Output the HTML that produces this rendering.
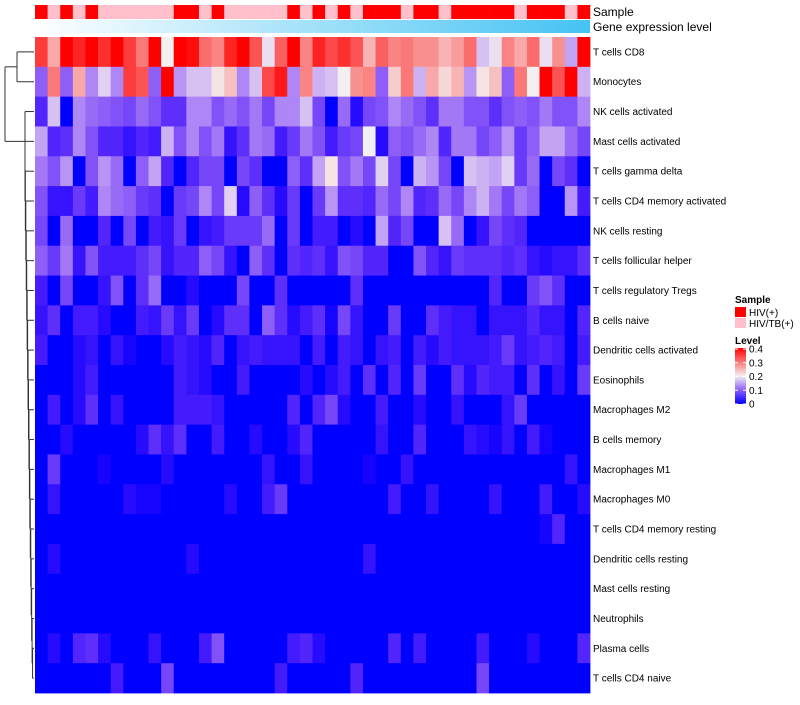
<!DOCTYPE html>
<html><head><meta charset="utf-8"><style>
body{margin:0;background:#fff;font-family:"Liberation Sans",sans-serif;}
svg text{font-family:"Liberation Sans",sans-serif;}
</style></head><body>
<svg id="chart" width="800" height="700" xmlns="http://www.w3.org/2000/svg"></svg>
<script>
const rowLabels=["T cells CD8","Monocytes","NK cells activated","Mast cells activated","T cells gamma delta","T cells CD4 memory activated","NK cells resting","T cells follicular helper","T cells regulatory  Tregs","B cells naive","Dendritic cells activated","Eosinophils","Macrophages M2","B cells memory","Macrophages M1","Macrophages M0","T cells CD4 memory resting","Dendritic cells resting","Mast cells resting","Neutrophils","Plasma cells","T cells CD4 naive"];
const sampleGroups="RPRPRPPPPPPRRPRPPPPPRPRPRPRRRPRRPRRRRRPRRRPR".split("");
const legendSamples=["HIV(+)","HIV/TB(+)"];
const levelTicks=[0,0.1,0.2,0.3,0.4];
const z=new Array(22).fill(0);
const r0=[.35,.26,.42,.37,.42,.36,.42,.35,.3,.4,.2,.42,.39,.31,.29,.37,.42,.33,.19,.32,.42,.29,.37,.34,.36,.33,.25,.32,.29,.3,.28,.28,.25,.27,.31,.17,.19,.29,.26,.31,.19,.28,.15,.42];
const r1=[.1,.3,.1,.26,.13,.18,.13,.35,.33,.1,.42,.14,.17,.17,.21,.24,.13,.17,.34,.38,.13,.29,.16,.17,.2,.28,.29,.1,.23,.3,.16,.26,.22,.25,.14,.21,.24,.1,.3,.2,.42,.33,.42,.16];
const r2=[.05,.17,0,.13,.11,.1,.09,.08,.11,.09,.06,.06,.13,.13,.09,.11,.09,.12,.08,.13,.13,.17,.08,0,.11,.02,.08,.09,.13,.11,.09,.06,.12,.12,.09,.09,.06,.09,.1,.09,.12,.09,.09,.13];
const r3=[.15,.05,.06,.13,.09,.05,.05,.03,.05,.04,.16,.09,.13,.09,.12,.03,.06,.12,.11,.04,.07,.12,.09,.04,.07,.08,.2,.02,.1,.09,.11,.13,.05,.12,.12,.08,.1,.14,.07,.1,.15,.15,.11,.08];
const r4=[.12,.09,.14,0,.09,.14,.11,0,.1,.15,.05,0,.05,.08,.08,0,.08,.06,0,0,.1,.06,.15,.21,.09,.12,.08,.18,.08,0,.16,.14,.08,0,.17,.16,.15,.18,.07,.11,0,.08,.06,0];
const r5=[.09,.03,.03,.07,.04,.13,.11,.1,.07,.06,0,.07,.08,.13,.08,.18,.02,.1,.06,.02,.07,0,.07,.14,.06,.06,.05,.11,.08,.13,.05,.06,.11,.08,.13,.16,.12,.08,.12,.1,0,0,.14,.04];
const r6=[.08,0,.11,0,0,.05,0,.08,0,.04,.03,.07,0,.03,.04,.07,.07,.07,.11,0,.07,0,.04,.04,0,.02,0,.15,.05,.08,0,0,.17,.11,0,.03,.08,.06,.05,0,0,0,0,0];
const r7=[.1,.07,.12,.03,.09,.04,.04,.04,.06,.08,.03,.05,.05,.1,.08,.03,0,.1,.06,0,.06,.05,.06,.03,.09,.08,.05,.05,0,0,.09,.05,.03,.07,.06,.06,.06,.05,.06,.03,.02,.03,.03,.06];
const r8=[.04,0,.08,0,0,.03,.09,0,.06,.11,0,0,.02,0,0,0,.08,0,0,.06,0,0,0,0,0,.06,0,0,0,0,0,0,0,0,0,0,.05,0,0,.07,.09,.06,0,0];
const r9=[.03,.06,0,.04,.04,.02,0,0,.04,.03,.07,.03,.07,0,.02,.06,.06,0,.1,.06,.02,.04,.06,.01,.08,.03,0,0,.07,0,0,.06,.04,.03,.03,0,.03,.03,.03,.05,.03,.03,0,.05];
const r10=[.04,0,0,.02,.03,0,.03,.01,0,0,.02,.04,.03,.02,.05,0,.03,.04,.03,.03,.03,0,.04,0,.04,.03,0,.03,.04,0,.04,.02,.04,.03,.03,.03,.04,.07,.03,.04,.05,.04,0,.04];
const r11=[0,0,0,.02,.04,0,0,0,0,0,0,.04,.03,.02,0,0,.04,0,0,0,0,.02,0,.02,.04,0,.06,0,.05,0,.07,0,0,.06,.02,.05,.04,.04,0,.06,0,.03,0,.07];
const r12=[0,.04,0,.02,.06,0,.03,0,0,0,0,.04,.04,.04,.03,0,0,0,0,0,.05,0,.05,.08,.02,0,0,.04,0,0,.02,0,0,.03,0,0,0,.03,.07,0,0,0,0,0];
const r13=[0,0,.02,0,0,0,0,0,.02,.06,.03,.06,0,0,.04,0,0,.02,0,0,.02,.05,0,0,0,0,0,.03,0,0,.05,0,0,0,.03,.02,.01,.03,0,.04,.01,0,0,0];
const r14=[0,.07,0,0,0,.01,0,0,0,0,.02,0,0,0,0,0,0,0,.03,0,0,.03,0,0,0,0,.01,0,0,.03,0,0,0,0,0,0,0,0,0,0,0,0,.03,0];
const r15=[0,.03,0,0,0,0,0,.02,.01,.01,0,0,0,0,0,.02,0,0,.04,.07,0,0,0,0,0,0,0,0,.04,0,0,.03,0,0,0,0,.03,0,0,0,.04,0,0,.02];
const r16=z.concat([0,0,0,0,0,0,0,0,0,0,0,0,0,0,0,0,0,0,.01,.05,0,0]);
const r17=[0,.02,0,0,0,0,0,0,0,0,0,0,.02,0,0,0,0,0,0,0,0,0,0,0,0,0,.03,0,0,0,0,0,0,0,0,0,0,0,0,0,0,0,0,0];
const r18=z.concat(z);
const r19=z.concat(z);
const r20=[0,.02,0,.05,.06,.02,0,0,0,.03,0,0,0,.04,.09,0,0,0,0,0,.04,.05,.02,0,0,0,0,0,.05,0,.04,0,0,0,0,.04,0,0,0,.02,0,0,0,.05];
const r21=[0,0,0,0,0,0,.04,0,0,0,.08,0,0,0,0,0,0,0,0,.04,0,0,0,0,0,.05,0,0,0,0,0,0,0,0,0,.08,0,0,0,0,0,0,0,0];
const values=[r0,r1,r2,r3,r4,r5,r6,r7,r8,r9,r10,r11,r12,r13,r14,r15,r16,r17,r18,r19,r20,r21];

const NS="http://www.w3.org/2000/svg";
const svg=document.getElementById("chart");
const X0=35,X1=590,Y0=37,Y1=693;
const nC=sampleGroups.length,nR=rowLabels.length;
const cw=(X1-X0)/nC,rh=(Y1-Y0)/nR;
const xPos=i=>X0+i*cw, yPos=j=>Y0+j*rh;
function color(v){
  const t=Math.max(0,Math.min(1,v/0.4));
  let r,g,b;
  if(t<=0.5){const s=t/0.5;r=245*Math.pow(s,0.8);g=240*Math.pow(s,1.35);b=255-15*s;}
  else{const s=(t-0.5)/0.5;r=245+10*s;g=240*(1-s);b=240*(1-s);}
  return `rgb(${Math.round(r)},${Math.round(g)},${Math.round(b)})`;
}
function el(tag,attrs){const e=document.createElementNS(NS,tag);for(const k in attrs)e.setAttribute(k,attrs[k]);svg.appendChild(e);return e;}
const defs=document.createElementNS(NS,"defs");svg.appendChild(defs);
defs.innerHTML='<linearGradient id="geneGrad" x1="0" x2="1" y1="0" y2="0"><stop offset="0" stop-color="#ffffff"/><stop offset="1" stop-color="#45c3f3"/></linearGradient><linearGradient id="lvlGrad" x1="0" x2="0" y1="1" y2="0"><stop offset="0" stop-color="'+color(0)+'"/><stop offset="0.25" stop-color="'+color(0.1)+'"/><stop offset="0.5" stop-color="'+color(0.2)+'"/><stop offset="0.75" stop-color="'+color(0.3)+'"/><stop offset="1" stop-color="'+color(0.4)+'"/></linearGradient>';
sampleGroups.forEach((g,i)=>{
  const r=el("rect",{x:xPos(i),y:5,width:cw+0.3,height:14,fill:g==="R"?"#ff0000":"#ffc0cb"});
  
  
});
const gb=el("rect",{x:X0,y:20,width:X1-X0,height:13,fill:"url(#geneGrad)"});


const t1=el("text",{x:593,y:16,"font-size":12});t1.textContent="Sample";


const t2=el("text",{x:593,y:31,"font-size":12});t2.textContent="Gene expression level";


values.forEach((row,j)=>{
  row.forEach((v,i)=>{
    const c=el("rect",{x:xPos(i),y:yPos(j),width:cw+0.4,height:rh+0.4,fill:color(v)});
    
    
  });
  const t=el("text",{x:593,y:yPos(j)+rh/2+3.5,"font-size":10});
  t.textContent=rowLabels[j];
  
  
});
const cy=j=>yPos(j)+rh/2;
const dg=document.createElementNS(NS,"g");dg.setAttribute("stroke","#333");dg.setAttribute("fill","none");dg.setAttribute("stroke-width","1");


svg.appendChild(dg);
function ln(x1,y1,x2,y2){const l=document.createElementNS(NS,"line");l.setAttribute("x1",x1);l.setAttribute("y1",y1);l.setAttribute("x2",x2);l.setAttribute("y2",y2);dg.appendChild(l);}
ln(17,cy(0),34,cy(0));ln(17,cy(1),34,cy(1));ln(17,cy(0),17,cy(1));
const topMid=(cy(0)+cy(1))/2;
let prevX=33,prevY=cy(21);ln(33,cy(21),34,cy(21));
for(let j=20;j>=2;j--){
  const hx=Math.max(25,33-(21-j)*0.45);
  ln(hx,cy(j),34,cy(j));
  ln(hx,cy(j),hx,prevY);
  ln(hx,prevY,prevX,prevY);
  prevY=(cy(j)+prevY)/2;prevX=hx;
}
ln(5,topMid,5,prevY);ln(5,topMid,17,topMid);ln(5,prevY,prevX,prevY);
const lg=[["Sample",735,303],["Level",735,344]];
lg.forEach(a=>{const t=el("text",{x:a[1],y:a[2],"font-size":10,"font-weight":"bold"});t.textContent=a[0];});
legendSamples.forEach((s,k)=>{
  const r=el("rect",{x:735,y:307+k*11,width:11,height:10,fill:k===0?"#ff0000":"#ffc0cb"});
  
  
  const t=el("text",{x:749,y:316+k*11,"font-size":10});t.textContent=s;
  
  
});
const lb=el("rect",{x:735,y:348,width:11,height:56,fill:"url(#lvlGrad)"});


levelTicks.forEach(v=>{
  const y=404-v/0.4*55;
  el("line",{x1:735,x2:738,y1:y,y2:y,stroke:"#fff"});el("line",{x1:743,x2:746,y1:y,y2:y,stroke:"#fff"});
  const t=el("text",{x:749,y:y+3.5,"font-size":10});t.textContent=String(v);
  
  
});
</script>
</body></html>
